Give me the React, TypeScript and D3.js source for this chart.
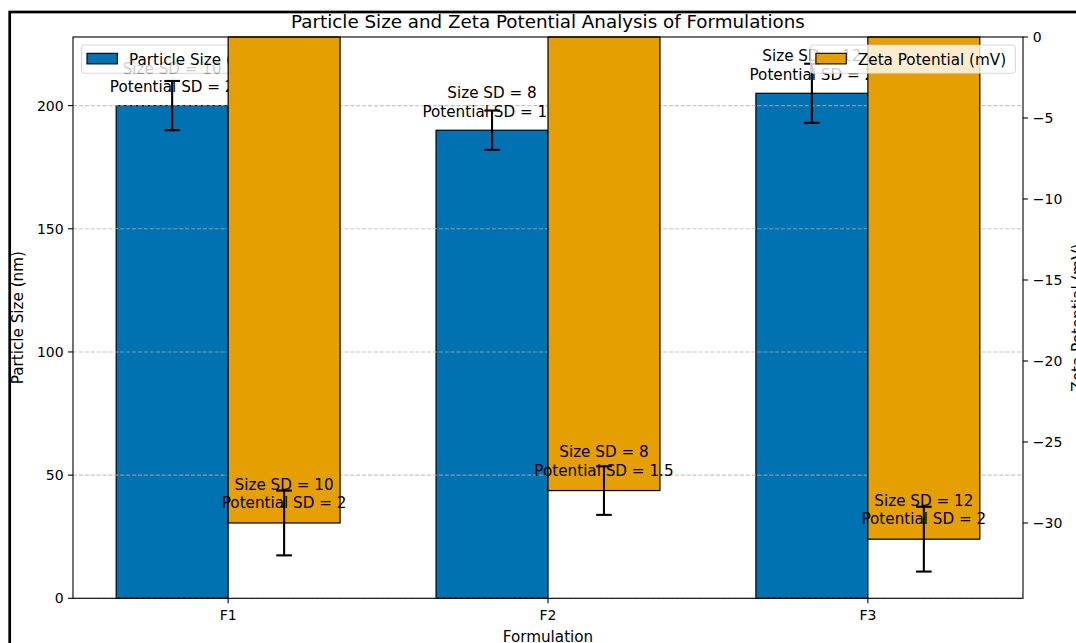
import React from "react";
import * as d3 from "d3";

const categories = ["F1", "F2", "F3"];
const particleSize = [200, 190, 205];
const sizeSD = [10, 8, 12];
const zetaPotential = [-30, -28, -31];
const potentialSD = [2, 1.5, 2];
const leftTicks = [0, 50, 100, 150, 200];
const rightTicks = [0, -5, -10, -15, -20, -25, -30];
const titleText = "Particle Size and Zeta Potential Analysis of Formulations";
const xLabel = "Formulation";
const yLabelLeft = "Particle Size (nm)";
const yLabelRight = "Zeta Potential (mV)";
const legendLeft = "Particle Size (nm)";
const legendRight = "Zeta Potential (mV)";

const W = 1076;
const H = 643;
const L = 73, R = 1023, T = 37, B = 598.3;
const BW = 0.35;
const BLUE = "#0072B2";
const ORANGE = "#E69F00";
const FONT = "'DejaVu Sans', Verdana, sans-serif";

export default function App() {
  const x = d3.scaleLinear().domain([-0.485, 2.485]).range([L, R]);
  const sizeMax = d3.max(particleSize.map((v, i) => v + sizeSD[i])) as number;
  const yL = d3.scaleLinear().domain([0, sizeMax * 1.05]).range([B, T]);
  const zMin = d3.min(zetaPotential.map((v, i) => v - potentialSD[i])) as number;
  const yR = d3.scaleLinear().domain([zMin * 1.05, 0]).range([B, T]);
  const pxW = x(BW) - x(0);
  const cap = 7.8;
  const annFs = 15.2;
  const lineH = 18.2;
  const descent = 3.6;

  const fmtR = (v: number) => (v < 0 ? "\u2212" + Math.abs(v) : String(v));

  const annotation = (cx: number, yBottom: number, i: number, key: string) => {
    const base = yBottom - descent;
    return (
      <text key={key} x={cx} textAnchor="middle" fontSize={annFs} fill="#000" fontFamily={FONT}>
        <tspan x={cx} y={base - lineH}>{`Size SD = ${sizeSD[i]}`}</tspan>
        <tspan x={cx} y={base}>{`Potential SD = ${potentialSD[i]}`}</tspan>
      </text>
    );
  };

  const errBar = (cx: number, y1: number, y2: number, key: string) => (
    <g key={key} stroke="#000" strokeWidth={2.1}>
      <line x1={cx} x2={cx} y1={y1} y2={y2} />
      <line x1={cx - cap} x2={cx + cap} y1={y1} y2={y1} />
      <line x1={cx - cap} x2={cx + cap} y1={y2} y2={y2} />
    </g>
  );

  const legend = (bx: number, bw: number, color: string, label: string) => (
    <g>
      <rect x={bx} y={45} width={bw} height={28.3} rx={2.8} fill="#fff" fillOpacity={0.8}
        stroke="#ccc" strokeOpacity={0.8} strokeWidth={1} />
      <rect x={bx + 5.5} y={53.3} width={30.4} height={10.6} fill={color} stroke="#000" strokeWidth={1.1} />
      <text x={bx + 47.5} y={64.6} fontSize={annFs} fontFamily={FONT} fill="#000">{label}</text>
    </g>
  );

  return (
    <div style={{ position: "absolute", left: 0, top: 0 }}>
      <svg width={W} height={H} style={{ display: "block", background: "#fff" }}>
        <rect x={0} y={0} width={W} height={H} fill="#fff" />
        <rect x={9.7} y={12} width={W * 2} height={H * 2} fill="none" stroke="#000" strokeWidth={2.7} />

        {/* title */}
        <text x={(L + R) / 2} y={27.8} textAnchor="middle" fontSize={18.3} fontFamily={FONT} fill="#000">{titleText}</text>

        {/* ax1: blue bars */}
        {categories.map((c, i) => (
          <rect key={"b" + c} x={x(i - BW)} y={yL(particleSize[i])} width={pxW}
            height={yL(0) - yL(particleSize[i])} fill={BLUE} stroke="#000" strokeWidth={1.2} />
        ))}
        {/* grid */}
        {leftTicks.map((t) => (
          <line key={"g" + t} x1={L} x2={R} y1={yL(t)} y2={yL(t)} stroke="#b0b0b0" strokeOpacity={0.7}
            strokeWidth={1.1} strokeDasharray="4.1,1.8" />
        ))}
        {categories.map((c, i) =>
          errBar(x(i - BW / 2), yL(particleSize[i] + sizeSD[i]), yL(particleSize[i] - sizeSD[i]), "e1" + c)
        )}
        {categories.map((c, i) => annotation(x(i - BW / 2), yL(particleSize[i] + 4.1), i, "a1" + c))}
        {legend(81.5, 191, BLUE, legendLeft)}

        {/* ax2: orange bars */}
        {categories.map((c, i) => (
          <rect key={"o" + c} x={x(i)} y={yR(0)} width={pxW}
            height={yR(zetaPotential[i]) - yR(0)} fill={ORANGE} stroke="#000" strokeWidth={1.2} />
        ))}
        {categories.map((c, i) =>
          errBar(x(i + BW / 2), yR(zetaPotential[i] + potentialSD[i]), yR(zetaPotential[i] - potentialSD[i]), "e2" + c)
        )}
        {categories.map((c, i) => annotation(x(i + BW / 2), yR(zetaPotential[i] + 0.7), i, "a2" + c))}
        {legend(1015.4 - 205, 205, ORANGE, legendRight)}

        {/* spines */}
        <rect x={L} y={T} width={R - L} height={B - T} fill="none" stroke="#000" strokeWidth={1.1} />

        {/* left ticks */}
        {leftTicks.map((t) => (
          <g key={"lt" + t}>
            <line x1={L - 4.9} x2={L} y1={yL(t)} y2={yL(t)} stroke="#000" strokeWidth={1.1} />
            <text x={L - 9.3} y={yL(t) + 5.1} textAnchor="end" fontSize={14} fontFamily={FONT} fill="#000">{t}</text>
          </g>
        ))}
        {/* right ticks */}
        {rightTicks.map((t) => (
          <g key={"rt" + t}>
            <line x1={R} x2={R + 4.9} y1={yR(t)} y2={yR(t)} stroke="#000" strokeWidth={1.1} />
            <text x={R + 9.8} y={yR(t) + 5.1} textAnchor="start" fontSize={14} fontFamily={FONT} fill="#000">{fmtR(t)}</text>
          </g>
        ))}
        {/* x ticks */}
        {categories.map((c, i) => (
          <g key={"xt" + c}>
            <line x1={x(i)} x2={x(i)} y1={B} y2={B + 4.9} stroke="#000" strokeWidth={1.1} />
            <text x={x(i)} y={620} textAnchor="middle" fontSize={14} fontFamily={FONT} fill="#000">{c}</text>
          </g>
        ))}

        {/* axis labels */}
        <text x={(L + R) / 2} y={641.5} textAnchor="middle" fontSize={15.2} fontFamily={FONT} fill="#000">{xLabel}</text>
        <text transform={`translate(22.8, ${(T + B) / 2}) rotate(-90)`} textAnchor="middle" fontSize={15.2}
          fontFamily={FONT} fill="#000">{yLabelLeft}</text>
        <text transform={`translate(1083.2, ${(T + B) / 2}) rotate(-90)`} textAnchor="middle" fontSize={15.2}
          fontFamily={FONT} fill="#000">{yLabelRight}</text>
      </svg>
    </div>
  );
}
